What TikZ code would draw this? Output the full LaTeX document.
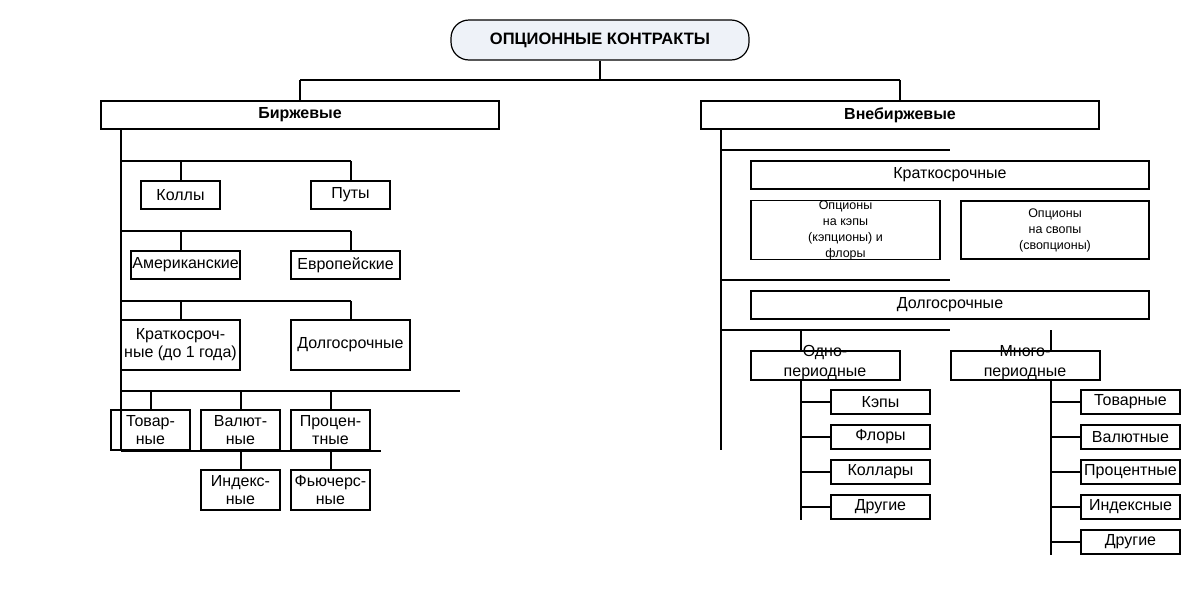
\documentclass[tikz,border=0pt]{standalone}
\usepackage{fontspec}
\setmainfont{Liberation Sans}
\usetikzlibrary{positioning}
\definecolor{titlefill}{RGB}{238,242,248}
\tikzset{
box/.style={draw, line width=1.6pt, inner sep=0pt, align=center, font=\fontsize{16}{18}\selectfont},
small/.style={box, font=\fontsize{12.5}{16}\selectfont},
ln/.style={line width=1.6pt}
}
\newcommand{\bx}[6]{\node[#1, minimum width={(#4)-(#2)}, minimum height={(#5)-(#3)}] (#6) at ({((#2)+(#4))/2},{((#3)+(#5))/2})}

\begin{document}
\begin{tikzpicture}[x=1pt,y=-1pt]
\useasboundingbox (0,0) rectangle (1200,600);
\node[draw, rounded corners=18pt, fill=titlefill, line width=1.2pt, minimum width=298, minimum height=40, font=\fontsize{16.5}{18}\selectfont\bfseries] (title) at (600,40) {ОПЦИОННЫЕ КОНТРАКТЫ};
\bx{box}{101}{101}{499}{129}{birzh} {\textbf{Биржевые}};
\bx{box}{701}{101}{1099}{129}{vneb} {\textbf{Внебиржевые}};
\coordinate (t) at (600,80);
\draw[ln] (title.south) -- (t) (300,80) -- (900,80);
\draw[ln] (300,80) -- (birzh.north-|300,0) (900,80) -- (vneb.north-|900,0);
% left
\bx{box}{141}{181}{220}{209}{call} {Коллы};
\bx{box}{311}{181}{390}{209}{put} {Путы};
\bx{box}{131}{251}{240}{279}{amer} {Американские};
\bx{box}{291}{251}{400}{279}{evro} {Европейские};
\bx{box}{121}{320}{240}{370}{kratk} {Краткосроч-\\ные (до 1 года)};
\bx{box}{291}{320}{410}{370}{dolg} {Долгосрочные};
\bx{box}{111}{410}{190}{450}{tov} {Товар-\\ные};
\bx{box}{201}{410}{280}{450}{val} {Валют-\\ные};
\bx{box}{291}{410}{370}{450}{proc} {Процен-\\тные};
\bx{box}{201}{470}{280}{510}{ind} {Индекс-\\ные};
\bx{box}{291}{470}{370}{510}{fut} {Фьючерс-\\ные};
\coordinate (lb) at (121,450);
\draw[ln] (birzh.south-|121,0) -- (lb);
\draw[ln] (121,161) -- (351,161) (181,161) -- (call.north-|181,0) (351,161) -- (put.north-|351,0);
\draw[ln] (121,231) -- (351,231) (181,231) -- (amer.north-|181,0) (351,231) -- (evro.north-|351,0);
\draw[ln] (121,301) -- (351,301) (181,301) -- (kratk.north-|181,0) (351,301) -- (dolg.north-|351,0);
\draw[ln] (121,391) -- (460,391) (151,391) -- (tov.north-|151,0) (241,391) -- (val.north-|241,0) (331,391) -- (proc.north-|331,0);
\draw[ln] (121,451) -- (381,451) (val.south-|241,0) -- (ind.north-|241,0) (proc.south-|331,0) -- (fut.north-|331,0);
% right
\bx{box}{751}{161}{1149}{189}{kr} {Краткосрочные};
\bx{small}{751}{201}{940}{259}{cap} {Опционы\\на кэпы\\(кэпционы) и\\флоры};
\bx{small}{961}{201}{1149}{259}{swap} {Опционы\\на свопы\\(свопционы)};
\bx{box}{751}{291}{1149}{319}{dl} {Долгосрочные};
\bx{box}{751}{351}{900}{380}{odno} {};
\bx{box}{951}{351}{1100}{380}{mnogo} {};
\node[font=\fontsize{16}{20}\selectfont, align=center] at (825,363) {Одно-\\периодные};
\node[font=\fontsize{16}{20}\selectfont, align=center] at (1025,363) {Много-\\периодные};
\coordinate (rb) at (721,450);
\draw[ln] (vneb.south-|721,0) -- (rb);
\draw[ln] (721,150) -- (950,150) (721,280) -- (950,280) (721,330) -- (950,330);
\draw[ln] (801,330) -- (odno.north-|801,0) (1051,330) -- (mnogo.north-|1051,0);
\draw[ln] (odno.south-|801,0) -- (801,520) (mnogo.south-|1051,0) -- (1051,555);
\foreach \t [count=\i] in {Кэпы,Флоры,Коллары,Другие}
 {\bx{box}{831}{355+35*\i}{930}{379+35*\i}{o\i} {\t};
  \draw[ln] (801,367+35*\i) -- (o\i.west);}
\foreach \t [count=\i] in {Товарные,Валютные,Процентные,Индексные,Другие}
 {\bx{box}{1081}{355+35*\i}{1180}{379+35*\i}{m\i} {\t};
  \draw[ln] (1051,367+35*\i) -- (m\i.west);}
\end{tikzpicture}
\end{document}
